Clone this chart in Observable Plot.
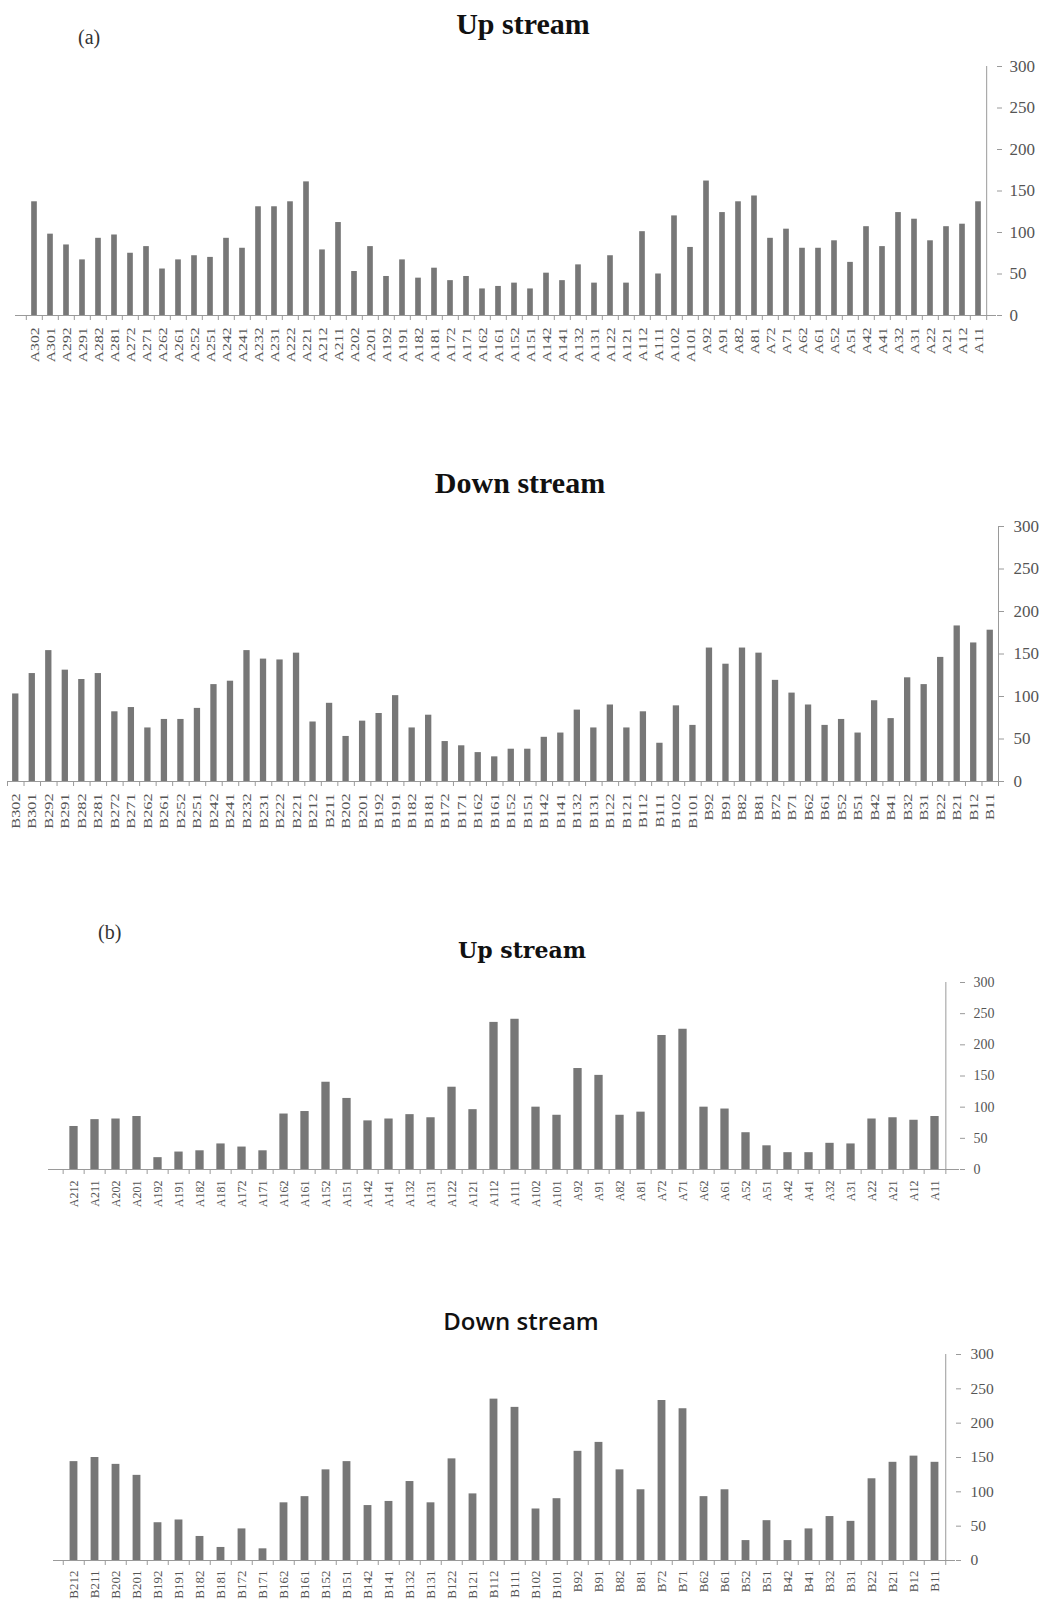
<!DOCTYPE html>
<html><head><meta charset="utf-8">
<script src="https://cdn.jsdelivr.net/npm/d3@7"></script>
<script src="https://cdn.jsdelivr.net/npm/@observablehq/plot@0.6"></script>
<style>
html,body{margin:0;padding:0;background:#fff;overflow:hidden;}
#fig{position:relative;width:1039px;height:1600px;overflow:hidden;}
.panel{position:absolute;left:0;}
.t{position:absolute;line-height:1;white-space:nowrap;color:#111;transform:translateX(-50%);}
.tag{position:absolute;line-height:1;white-space:nowrap;color:#333;font-family:"Liberation Serif",serif;font-size:20px;}
</style></head><body><div id="fig"></div>
<script>
// (a) Up stream
const upA_sites = ["A302","A301","A292","A291","A282","A281","A272","A271","A262","A261","A252","A251","A242","A241","A232","A231","A222","A221","A212","A211","A202","A201","A192","A191","A182","A181","A172","A171","A162","A161","A152","A151","A142","A141","A132","A131","A122","A121","A112","A111","A102","A101","A92","A91","A82","A81","A72","A71","A62","A61","A52","A51","A42","A41","A32","A31","A22","A21","A12","A11"];
const upA_values = [137,98,85,67,93,97,75,83,56,67,72,70,93,81,131,131,137,161,79,112,53,83,47,67,45,57,42,47,32,35,39,32,51,42,61,39,72,39,101,50,120,82,162,124,137,144,93,104,81,81,90,64,107,83,124,116,90,107,110,137];
// (a) Down stream
const downA_sites = ["B302","B301","B292","B291","B282","B281","B272","B271","B262","B261","B252","B251","B242","B241","B232","B231","B222","B221","B212","B211","B202","B201","B192","B191","B182","B181","B172","B171","B162","B161","B152","B151","B142","B141","B132","B131","B122","B121","B112","B111","B102","B101","B92","B91","B82","B81","B72","B71","B62","B61","B52","B51","B42","B41","B32","B31","B22","B21","B12","B11"];
const downA_values = [103,127,154,131,120,127,82,87,63,73,73,86,114,118,154,144,143,151,70,92,53,71,80,101,63,78,47,42,34,29,38,38,52,57,84,63,90,63,82,45,89,66,157,138,157,151,119,104,90,66,73,57,95,74,122,114,146,183,163,178];
// (b) Up stream
const upB_sites = ["A212","A211","A202","A201","A192","A191","A182","A181","A172","A171","A162","A161","A152","A151","A142","A141","A132","A131","A122","A121","A112","A111","A102","A101","A92","A91","A82","A81","A72","A71","A62","A61","A52","A51","A42","A41","A32","A31","A22","A21","A12","A11"];
const upB_values = [69,80,81,85,19,28,30,41,36,30,89,93,140,114,78,81,88,83,132,96,236,241,100,87,162,151,87,92,215,225,100,97,59,38,27,27,42,41,81,83,79,85];
// (b) Down stream
const downB_sites = ["B212","B211","B202","B201","B192","B191","B182","B181","B172","B171","B162","B161","B152","B151","B142","B141","B132","B131","B122","B121","B112","B111","B102","B101","B92","B91","B82","B81","B72","B71","B62","B61","B52","B51","B42","B41","B32","B31","B22","B21","B12","B11"];
const downB_values = [144,150,140,124,55,59,35,19,46,17,84,93,132,144,80,86,115,84,148,97,235,223,75,90,159,172,132,103,233,221,93,103,29,58,29,46,64,57,119,143,152,143];

const yTicks = [0,50,100,150,200,250,300];

const fig = document.getElementById("fig");
const W = 1039;
const axisColor = "#9a9a9a";
const barColor = "#777777";
const labelColor = "#555555";

function panel(c){
  const data = c.sites.map((s,i)=>({site:s, value:c.values[i]}));
  const step = (W - c.ml - c.mr) / c.sites.length;
  const inset = (step - c.bw) / 2;
  const last = c.sites[c.sites.length-1];
  const svg = Plot.plot({
    width: W, height: c.h,
    marginTop: c.mt, marginBottom: c.mb, marginLeft: c.ml, marginRight: c.mr,
    style: {background: "transparent", fontFamily: c.font, color: labelColor, overflow: "visible"},
    x: {domain: c.sites, padding: 0, axis: null},
    y: {domain: [0,300], axis: null},
    marks: [
      Plot.barY(data, {x: "site", y: "value", fill: barColor, insetLeft: inset, insetRight: inset}),
      Plot.ruleY([0], {stroke: axisColor}),
      Plot.ruleX([last], {x: d=>d, y1: 0, y2: 300, dx: step/2, stroke: axisColor}),
      Plot.ruleX(c.sites, {x: d=>d, y1: 0, y2: 0, insetBottom: -5, dx: -step/2, stroke: axisColor}),
      Plot.ruleX([last], {x: d=>d, y1: 0, y2: 0, insetBottom: -5, dx: step/2, stroke: axisColor}),
      Plot.axisY({anchor: "right", label: null, ticks: yTicks, tickSize: 5, tickPadding: c.yp, fontSize: c.yfs, stroke: axisColor, fill: labelColor, fontFamily: c.font}),
      Plot.axisX({anchor: "bottom", label: null, tickSize: 0, tickRotate: -90, tickPadding: c.xp, fontSize: c.xfs, fill: labelColor, fontFamily: c.font})
    ]
  });
  if (c.stretch && c.stretch !== 1) {
    svg.querySelectorAll('g[aria-label="x-axis tick label"] text').forEach(t => {
      const tr = t.getAttribute("transform") || "";
      t.setAttribute("transform", tr + ` scale(${c.stretch},1)`);
    });
  }
  const div = document.createElement("div");
  div.className = "panel";
  div.style.top = c.top + "px";
  div.appendChild(svg);
  fig.appendChild(div);
}

function title(text, cx, top, css){
  const d = document.createElement("div");
  d.className = "t";
  d.textContent = text;
  d.style.left = cx + "px";
  d.style.top = top + "px";
  Object.assign(d.style, css);
  fig.appendChild(d);
}
function tag(text, x, top){
  const d = document.createElement("div");
  d.className = "tag";
  d.textContent = text;
  d.style.left = x + "px";
  d.style.top = top + "px";
  fig.appendChild(d);
}

const serif = "'Liberation Serif', 'Times New Roman', serif";

panel({sites: upA_sites, values: upA_values, top: 0, h: 380, mt: 66, mb: 65, ml: 15, mr: 43, bw: 6,
  font: serif, yfs: 17, yp: 8, xfs: 12.5, xp: 12, stretch: 1.25});
panel({sites: downA_sites, values: downA_values, top: 460, h: 380, mt: 66, mb: 59, ml: 7, mr: 41, bw: 6.3,
  font: serif, yfs: 17, yp: 10, xfs: 12.5, xp: 12, stretch: 1.3});
panel({sites: upB_sites, values: upB_values, top: 910, h: 310, mt: 72, mb: 51, ml: 48, mr: 80, bw: 9,
  font: serif, yfs: 14, yp: 9, xfs: 12, xp: 11, stretch: 1});
panel({sites: downB_sites, values: downB_values, top: 1300, h: 300, mt: 54, mb: 40, ml: 53, mr: 84, bw: 8.3,
  font: serif, yfs: 15.5, yp: 10, xfs: 13, xp: 10, stretch: 1});

title("Up stream", 523, 9, {fontFamily: serif, fontWeight: "bold", fontSize: "30px"});
title("Down stream", 520, 468, {fontFamily: serif, fontWeight: "bold", fontSize: "30px"});
title("Up stream", 522, 939, {fontFamily: "'DejaVu Serif', serif", fontWeight: "bold", fontSize: "22px"});
title("Down stream", 521, 1309, {fontFamily: "'Open Sans', sans-serif", fontWeight: "600", fontSize: "24px"});
tag("(a)", 78, 27);
tag("(b)", 98, 922);
</script>
</body></html>
